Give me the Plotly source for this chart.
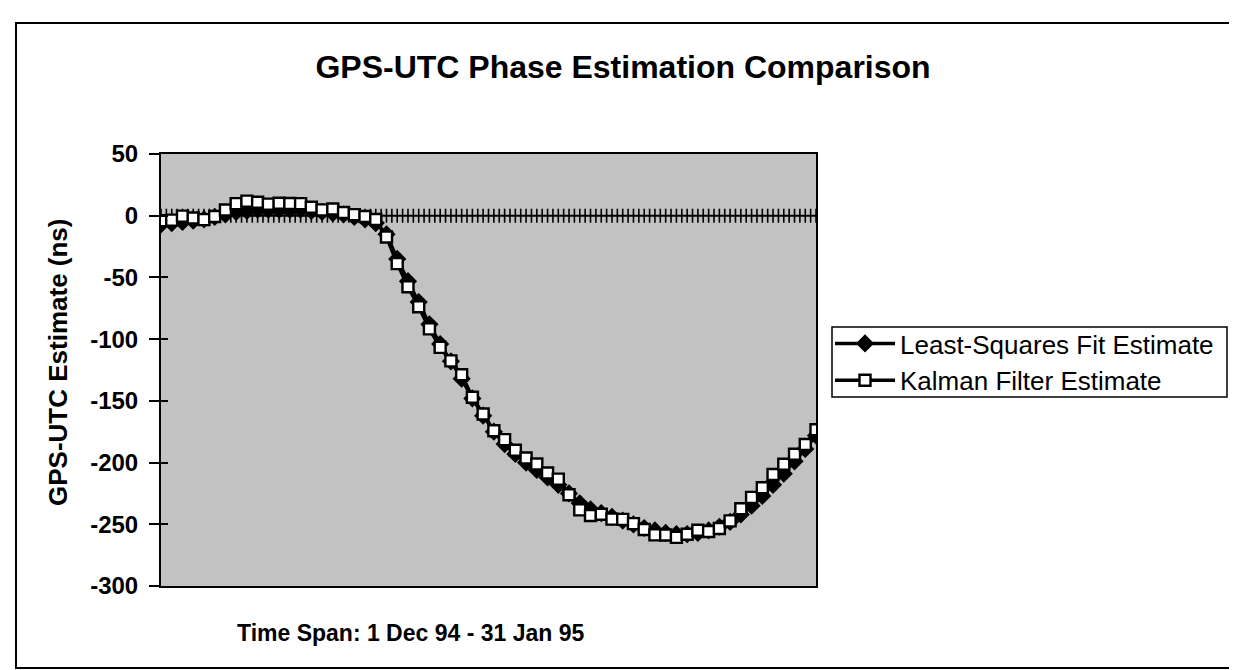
import numpy as np
import plotly.graph_objects as go

# Daily samples, 1 Dec 94 .. 31 Jan 95 (62 days)
days = list(range(62))

kalman = [-4, -3.6, -0.3, -1.8, -3.2, -0.6, 4.6, 9.8, 11.8, 10.9,
          9.4, 10.1, 9.9, 9.8, 6.8, 4.7, 5.4, 2.6, 0.9, -0.6,
          -3.1, -17.3, -38.8, -57.6, -73.7, -91.7, -106.7, -117.6, -128.9, -147.1,
          -160.6, -174.2, -181.4, -190.0, -196.3, -201.2, -208.5, -213.4, -226.1, -238.3,
          -242.9, -241.9, -245.8, -246.0, -249.5, -254.2, -258.6, -258.7, -260.6, -258.1,
          -254.8, -255.9, -253.4, -247.2, -237.4, -228.2, -220.4, -209.7, -201.4, -193.2,
          -185.3, -173.4]

least_squares = [-7, -6, -5, -4, -3, -1, 1, 3, 4, 5,
                 5, 5, 5, 5, 4, 3, 2, 1, -1, -3,
                 -6, -15, -35, -53, -70, -88, -104, -118, -132, -148,
                 -162, -175, -185, -193, -200, -206, -212, -218, -225, -233,
                 -238, -241, -244, -247, -250, -253, -255, -257, -258, -258,
                 -257, -255, -252, -248, -242, -235, -227, -218, -209, -199,
                 -189, -178]

y_ticks = [50, 0, -50, -100, -150, -200, -250, -300]
y_tick_text = ["50", "0", "-50", "-100", "-150", "-200", "-250", "-300"]

title_text = "GPS-UTC Phase Estimation Comparison"
x_title = "Time Span: 1 Dec 94 - 31 Jan 95"
y_title = "GPS-UTC Estimate (ns)"

FONT = "Arial, Liberation Sans, sans-serif"

fig = go.Figure()

# category axis crossing at zero, drawn with its tick marks
tick_x = np.arange(0, len(days) - 1 + 0.01, 0.5)
fig.add_trace(go.Scatter(
    x=tick_x, y=np.zeros_like(tick_x), mode="lines+markers",
    line=dict(color="black", width=2),
    marker=dict(symbol="line-ns", size=10, line=dict(color="black", width=1.6)),
    showlegend=False, hoverinfo="skip"))

fig.add_trace(go.Scatter(
    x=days, y=least_squares, name="Least-Squares Fit Estimate",
    mode="lines+markers",
    line=dict(color="black", width=3.5),
    marker=dict(symbol="diamond", size=14, color="black")))

fig.add_trace(go.Scatter(
    x=days, y=kalman, name="Kalman Filter Estimate",
    mode="lines+markers",
    line=dict(color="black", width=3.5),
    marker=dict(symbol="square", size=11, color="white",
                line=dict(color="black", width=2.4))))

# helper trace so the inner half of the y tick marks is drawn
fig.add_trace(go.Scatter(x=[days[0]], y=[y_ticks[0]], yaxis="y2", mode="markers",
                         marker=dict(opacity=0), showlegend=False, hoverinfo="skip"))

L, R, T, B = 153, 808, 146, 578
W, H = 1237, 670
pw, ph = R - L, B - T

def px(xp):
    return (xp - L) / pw

def py(yp):
    return (B - yp) / ph

fig.update_layout(
    width=W, height=H,
    margin=dict(l=L, r=W - R, t=T, b=H - B),
    paper_bgcolor="white", plot_bgcolor="#c2c2c2",
    font=dict(family=FONT, color="black"),
    title=dict(text=title_text, x=615 / W, xref="container", xanchor="center",
               y=1 - 59 / H, yref="container", yanchor="middle",
               font=dict(size=32, weight="bold", family=FONT)),
    xaxis=dict(range=[0, len(days) - 1], showline=True, linecolor="black",
               linewidth=2, mirror=True, showticklabels=False, ticks="",
               showgrid=False, zeroline=False),
    yaxis=dict(range=[-300, 50], tickvals=y_ticks, ticktext=y_tick_text,
               ticks="outside", ticklen=10,
               tickwidth=1.6, tickcolor="black", showline=True, linecolor="black",
               linewidth=2, mirror=True, showgrid=False, zeroline=False,
               ticklabelstandoff=6,
               tickfont=dict(size=24, weight="bold", family=FONT)),
    yaxis2=dict(range=[-300, 50], overlaying="y", side="left", anchor="x",
                tickvals=y_ticks, ticks="inside", ticklen=7, tickwidth=1.6,
                tickcolor="black", showticklabels=False, showline=False,
                showgrid=False, zeroline=False),
    legend=dict(x=px(822), y=py(312), xanchor="left", yanchor="top",
                bgcolor="rgba(0,0,0,0)", borderwidth=0,
                itemwidth=60,
                font=dict(size=26, family=FONT), tracegroupgap=0),
    showlegend=True,
)

# legend frame
fig.add_shape(type="rect", xref="paper", yref="paper",
              x0=px(824), x1=px(1219), y0=py(389), y1=py(319),
              line=dict(color="black", width=1.5), fillcolor="white", layer="below")

fig.add_annotation(text=x_title, x=px(403), y=py(625), xref="paper", yref="paper",
                   showarrow=False, xanchor="center", yanchor="middle",
                   font=dict(size=23, weight="bold", family=FONT))
fig.add_annotation(text=y_title, x=px(50), y=py(354), xref="paper", yref="paper",
                   showarrow=False, textangle=-90, xanchor="center", yanchor="middle",
                   font=dict(size=26, weight="bold", family=FONT))

# outer chart frame
fig.add_shape(type="rect", xref="paper", yref="paper",
              x0=px(8), x1=px(1232), y0=py(660), y1=py(15),
              line=dict(color="black", width=2), fillcolor="rgba(0,0,0,0)", layer="below")

fig.write_html("out.html")
